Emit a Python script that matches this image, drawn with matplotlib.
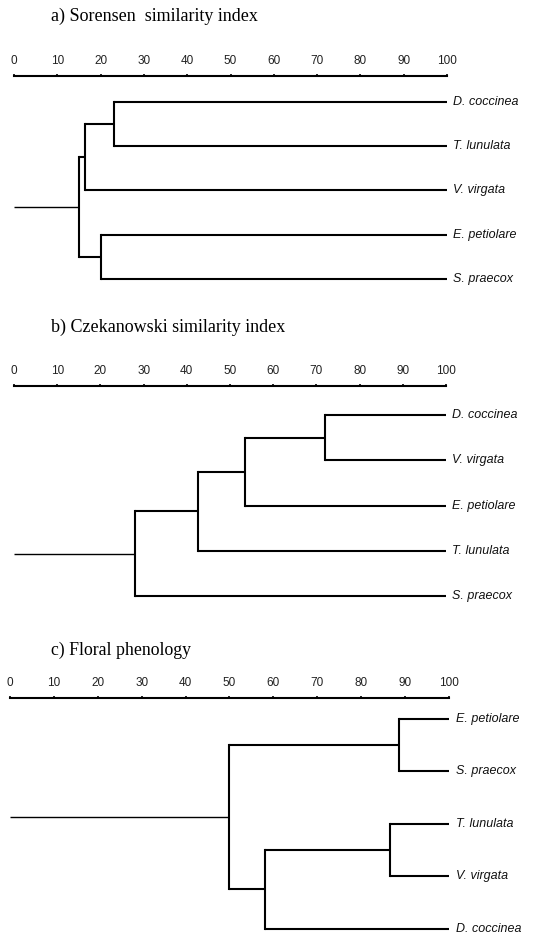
import matplotlib
matplotlib.use("Agg")
import matplotlib.pyplot as plt

# ---- data: leaves (top to bottom) and merges (child_a, child_b, similarity)
titles = ["a) Sorensen  similarity index",
          "b) Czekanowski similarity index",
          "c) Floral phenology"]

leaves_a = ["D. coccinea", "T. lunulata", "V. virgata", "E. petiolare", "S. praecox"]
merges_a = [(0, 1, 23.0), (5, 2, 16.5), (3, 4, 20.0), (6, 7, 15.0)]

leaves_b = ["D. coccinea", "V. virgata", "E. petiolare", "T. lunulata", "S. praecox"]
merges_b = [(0, 1, 72.0), (5, 2, 53.5), (6, 3, 42.5), (7, 4, 28.0)]

leaves_c = ["E. petiolare", "S. praecox", "T. lunulata", "V. virgata", "D. coccinea"]
merges_c = [(0, 1, 88.5), (2, 3, 86.5), (6, 4, 58.0), (5, 7, 50.0)]

ticks = list(range(0, 101, 10))

W, H = 541, 936
fig = plt.figure(figsize=(W / 100, H / 100), dpi=100)


def draw_dendro(ax, leaves, merges, lw=1.5):
    nodes = [(100.0, float(i)) for i in range(len(leaves))]
    for a, b, h in merges:
        xa, ya = nodes[a]
        xb, yb = nodes[b]
        ax.plot([xa, h], [ya, ya], color="black", lw=lw, solid_capstyle="butt")
        ax.plot([xb, h], [yb, yb], color="black", lw=lw, solid_capstyle="butt")
        ax.plot([h, h], [ya, yb], color="black", lw=lw, solid_capstyle="projecting")
        nodes.append((h, (ya + yb) / 2))
    rx, ry = nodes[-1]
    ax.plot([0, rx], [ry, ry], color="black", lw=1.0, solid_capstyle="butt")
    for i, name in enumerate(leaves):
        ax.text(101.5, i, name, fontsize=9, style="italic", family="Liberation Sans",
                va="center", ha="left", color="#111111")


# panel layout in pixels: (x0, x100, axis line y, first leaf y, leaf spacing, title y)
panels = [
    (titles[0], leaves_a, merges_a, 14, 447, 76, 102, 44.25, 16, 13),
    (titles[1], leaves_b, merges_b, 14, 446, 386, 415, 45.25, 327, 13),
    (titles[2], leaves_c, merges_c, 10, 449, 698, 719, 52.4, 650, 12.8),
]

for title, leaves, merges, x0, x1, yax, yl0, dy, ty, tfs in panels:
    n = len(leaves)
    top = -(yl0 - yax) / dy
    bot = n - 1 + 0.2
    y_bottom_px = yl0 + bot * dy
    ax = fig.add_axes([x0 / W, 1 - y_bottom_px / H, (x1 - x0) / W, (y_bottom_px - yax) / H])
    ax.set_xlim(0, 100)
    ax.set_ylim(bot, top)
    for s in ["left", "right", "bottom"]:
        ax.spines[s].set_visible(False)
    ax.spines["top"].set_linewidth(1.5)
    ax.xaxis.tick_top()
    ax.set_xticks(ticks)
    ax.set_xticklabels([str(t) for t in ticks], fontsize=8.5, family="Liberation Sans",
                       color="#222222")
    ax.tick_params(axis="x", direction="out", length=1.5, width=1.2, pad=5)
    ax.set_yticks([])
    ax.patch.set_visible(False)
    draw_dendro(ax, leaves, merges)
    fig.text(51 / W, 1 - ty / H, title, fontsize=tfs, family="Liberation Serif",
             va="center", ha="left")

fig.savefig("out.png", dpi=100)
